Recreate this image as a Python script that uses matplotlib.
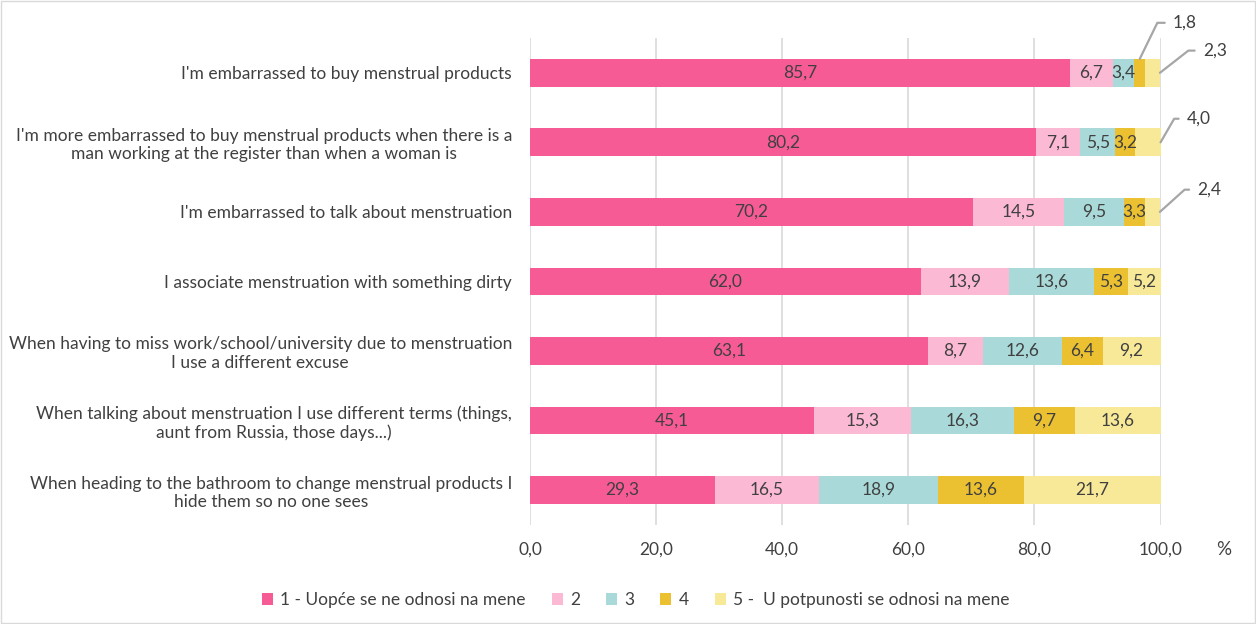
import matplotlib.pyplot as plt
import numpy as np
from matplotlib.patches import Rectangle

plt.rcParams['font.family'] = ['Lato', 'DejaVu Sans']

statements = [
    "I'm embarrassed to buy menstrual products",
    "I'm more embarrassed to buy menstrual products when there is a\nman working at the register than when a woman is",
    "I'm embarrassed to talk about menstruation",
    "I associate menstruation with something dirty",
    "When having to miss work/school/university due to menstruation\nI use a different excuse",
    "When talking about menstruation I use different terms (things,\naunt from Russia, those days...)",
    "When heading to the bathroom to change menstrual products I\nhide them so no one sees",
]
legend_labels = ['1 - Uopće se ne odnosi na mene', '2', '3', '4',
                 '5 -  U potpunosti se odnosi na mene']

answer1 = [85.7, 80.2, 70.2, 62.0, 63.1, 45.1, 29.3]
answer2 = [6.7, 7.1, 14.5, 13.9, 8.7, 15.3, 16.5]
answer3 = [3.4, 5.5, 9.5, 13.6, 12.6, 16.3, 18.9]
answer4 = [1.8, 3.2, 3.3, 5.3, 6.4, 9.7, 13.6]
answer5 = [2.3, 4.0, 2.4, 5.2, 9.2, 13.6, 21.7]

colors = ['#F75B95', '#FBB9D3', '#A9D9D8', '#EBC131', '#F8E999']
text_color = '#404040'
fs = 12.5

# segments too thin for an inside label get a leader line instead:
# (row, segment) -> (text offset x, text offset y in points, leader angle)
callouts = {(0, 3): (24, 26, 64), (0, 4): (31, 16, 38),
            (1, 4): (19, 17, 60), (2, 4): (27, 16, 42)}

series = [answer1, answer2, answer3, answer4, answer5]
y = np.arange(len(statements))

fig = plt.figure(figsize=(12.56, 6.24), dpi=100)
ax = fig.add_axes([0.422, 0.159, 0.502, 0.78])

left = np.zeros(len(statements))
for s, (vals, col, lab) in enumerate(zip(series, colors, legend_labels)):
    vals = np.array(vals)
    ax.barh(y, vals, left=left, height=0.4, color=col, label=lab, zorder=3)
    for i, v in enumerate(vals):
        txt = f'{v:.1f}'.replace('.', ',')
        cx = left[i] + v / 2
        if (i, s) in callouts:
            dx, dy, ang = callouts[(i, s)]
            # the last segment is tagged on its right edge, others on top
            if s == len(series) - 1:
                anchor = (left[i] + v, y[i])
            else:
                anchor = (cx, y[i] - 0.2)
            ax.annotate(txt, xy=anchor, xytext=(dx, dy),
                        textcoords='offset points', ha='left', va='center',
                        fontsize=fs, color=text_color, annotation_clip=False,
                        arrowprops=dict(arrowstyle='-', color='#A6A6A6', lw=1.6,
                                        shrinkA=4, shrinkB=0,
                                        connectionstyle=f'angle,angleA=0,angleB={ang},rad=0'))
        else:
            ax.text(cx, y[i], txt, ha='center', va='center', fontsize=fs,
                    color=text_color, zorder=4)
    left += vals

ticks = np.arange(0, 101, 20)
ax.set_xlim(0, 100)
ax.set_ylim(len(statements) - 0.5, -0.5)
ax.set_xticks(ticks)
ax.set_xticklabels([f'{t:.1f}'.replace('.', ',') for t in ticks])
ax.tick_params(axis='x', length=0, pad=12, labelsize=fs, labelcolor=text_color)
ax.set_yticks(y)
ax.set_yticklabels(statements, fontsize=fs, color=text_color, multialignment='center')
ax.tick_params(axis='y', length=0, pad=13)
ax.grid(axis='x', color='#D9D9D9', lw=1.2, zorder=0)
for sp in ax.spines.values():
    sp.set_visible(False)

ax.text(1.1, -0.033, '%', transform=ax.transAxes, ha='center', va='top',
        fontsize=fs + 1, color=text_color)

fig.legend(loc='center', bbox_to_anchor=(0.506, 0.038), ncol=5, frameon=False,
           fontsize=fs, handlelength=0.65, handleheight=0.65, handletextpad=0.4,
           columnspacing=1.5, labelcolor=text_color)

fig.add_artist(Rectangle((0.001, 0.002), 0.998, 0.996, transform=fig.transFigure,
                         fill=False, edgecolor='#D9D9D9', lw=1))

fig.savefig('out.png', dpi=100)
